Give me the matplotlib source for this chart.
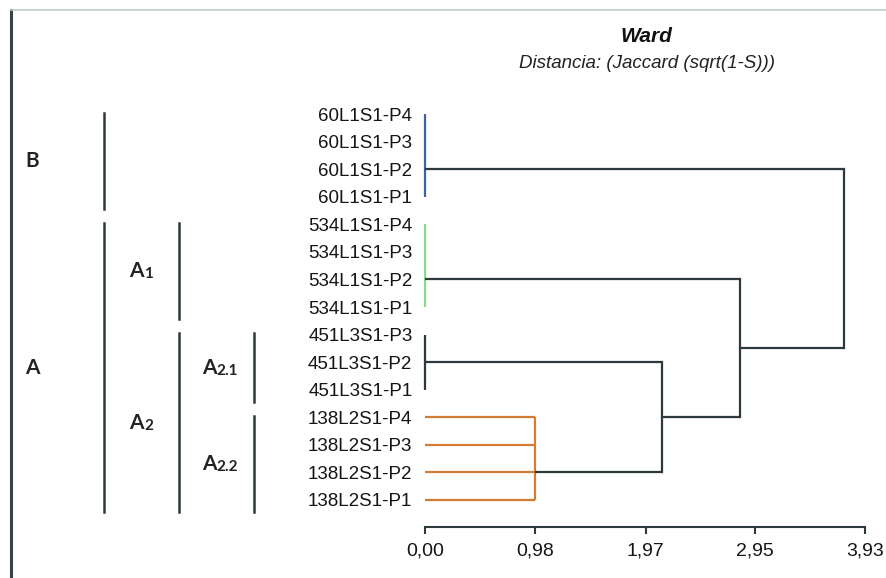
import matplotlib
matplotlib.use("Agg")
import matplotlib.pyplot as plt
import matplotlib.transforms as mtransforms
from matplotlib.lines import Line2D

plt.rcParams['font.family'] = ['Liberation Sans', 'DejaVu Sans']

# ---------------- data ----------------
group_names = ["60L1S1", "534L1S1", "451L3S1", "138L2S1"]
group_leaves = [["P4", "P3", "P2", "P1"],
                ["P4", "P3", "P2", "P1"],
                ["P3", "P2", "P1"],
                ["P4", "P3", "P2", "P1"]]
group_heights = [0.0, 0.0, 0.0, 0.98]          # height where the leaves of a group join
group_colors = ["#3d62a6", "#86db86", "#2d3a3d", "#d27d36"]
# merges: (left cluster, right cluster, height); clusters 0..3 are groups, 4.. are merges
merges = [(2, 3, 2.12), (1, 4, 2.81), (0, 5, 3.74)]
tick_values = [0.00, 0.98, 1.97, 2.95, 3.93]
tick_labels = ["0,00", "0,98", "1,97", "2,95", "3,93"]
title = "Ward"
subtitle = "Distancia: (Jaccard (sqrt(1-S)))"
# bracket annotations: (label, subscript, level, groups covered)
brackets = [("B", "", 0, [0]), ("A", "", 0, [1, 2, 3]),
            ("A", "1", 1, [1]), ("A", "2", 1, [2, 3]),
            ("A", "2.1", 2, [2]), ("A", "2.2", 2, [3])]

DARK = "#2d3a3d"
W, H = 887, 578
fig = plt.figure(figsize=(W / 100, H / 100), dpi=100)
fig.patch.set_facecolor("white")

n_leaves = sum(len(g) for g in group_leaves)
ax = fig.add_axes([425 / W, 1 - 527 / H, 440 / W, 427 / H])
ax.set_xlim(tick_values[0], tick_values[-1])
ax.set_ylim(-0.98, n_leaves - 1 + 0.51)

lw = 1.6
labels, ypos = [], []
cluster_y = {}
cluster_h = {}
row = 0
group_rows = []
for gi, (name, leaves) in enumerate(zip(group_names, group_leaves)):
    ys = []
    for lf in leaves:
        y = n_leaves - 1 - row
        labels.append(f"{name}-{lf}")
        ypos.append(y)
        ys.append(y)
        row += 1
    group_rows.append(ys)
    h = group_heights[gi]
    col = group_colors[gi]
    if h > 0:
        for y in ys:
            ax.plot([0, h], [y, y], color=col, lw=lw, clip_on=False, solid_capstyle="butt")
    ax.plot([h, h], [ys[0], ys[-1]], color=col, lw=lw, clip_on=False, solid_capstyle="butt")
    cluster_y[gi] = ys[len(ys) // 2]
    cluster_h[gi] = h

cid = len(group_names)
for a, b, h in merges:
    for c in (a, b):
        ax.plot([cluster_h[c], h], [cluster_y[c], cluster_y[c]], color=DARK, lw=lw,
                clip_on=False, solid_capstyle="butt")
    ax.plot([h, h], [cluster_y[a], cluster_y[b]], color=DARK, lw=lw, clip_on=False,
            solid_capstyle="projecting")
    cluster_y[cid] = (cluster_y[a] + cluster_y[b]) / 2
    cluster_h[cid] = h
    cid += 1

ax.set_yticks(ypos)
ax.set_yticklabels(labels, fontsize=13.5, color="#151515")
ax.tick_params(axis="y", length=0, pad=9)
ax.set_xticks(tick_values)
ax.set_xticklabels(tick_labels, fontsize=14, color="#151515")
ax.tick_params(axis="x", direction="out", length=5, width=1.5, color=DARK, pad=6)
for s in ["left", "right", "top"]:
    ax.spines[s].set_visible(False)
ax.spines["bottom"].set_color(DARK)
ax.spines["bottom"].set_linewidth(1.5)
ax.patch.set_alpha(0)

# titles
fig.text(646 / W, 1 - 36 / H, title, fontsize=15, fontweight="bold", fontstyle="italic",
         ha="center", va="center", color="#111111")
fig.text(647 / W, 1 - 64 / H, subtitle, fontsize=13.5, fontstyle="italic",
         ha="center", va="center", color="#222222")

# bracket annotations (x in figure fraction, y in leaf rows)
trans = mtransforms.blended_transform_factory(fig.transFigure, ax.transData)
line_x = [104, 179, 254]
label_x = [32, 143, 228]
for lab, sub, lvl, gs in brackets:
    ys = [y for g in gs for y in group_rows[g]]
    top = max(ys) + 0.05
    bot = min(ys) - 0.45
    x = line_x[lvl] / W
    ax.plot([x, x], [top, bot], transform=trans, color=DARK, lw=1.8, clip_on=False)
    ymid = (top + bot) / 2
    if lvl == 0:
        t = ax.text(25 / W, ymid, lab, transform=trans, fontsize=15, family="Lato",
                    fontweight="bold", ha="left", va="center", color="#222222")
    else:
        t = ax.text(label_x[lvl] / W - 0.007 * len(sub), ymid, lab, transform=trans,
                    fontsize=15, family="Lato", fontweight="bold", ha="center",
                    va="center", color="#222222")
        ax.annotate(sub, xy=(1.0, 0.0), xycoords=t, fontsize=11, family="Lato",
                    fontweight="bold", ha="left", va="bottom", color="#222222")

# page frame
fig.add_artist(Line2D([11 / W, 11 / W], [0, 1 - 10 / H], transform=fig.transFigure,
                      color="#3a4448", lw=2.2))
fig.add_artist(Line2D([11 / W, 1], [1 - 10 / H, 1 - 10 / H], transform=fig.transFigure,
                      color="#b8d0cc", lw=1.2))

fig.savefig("out.png", dpi=100, facecolor="white")
